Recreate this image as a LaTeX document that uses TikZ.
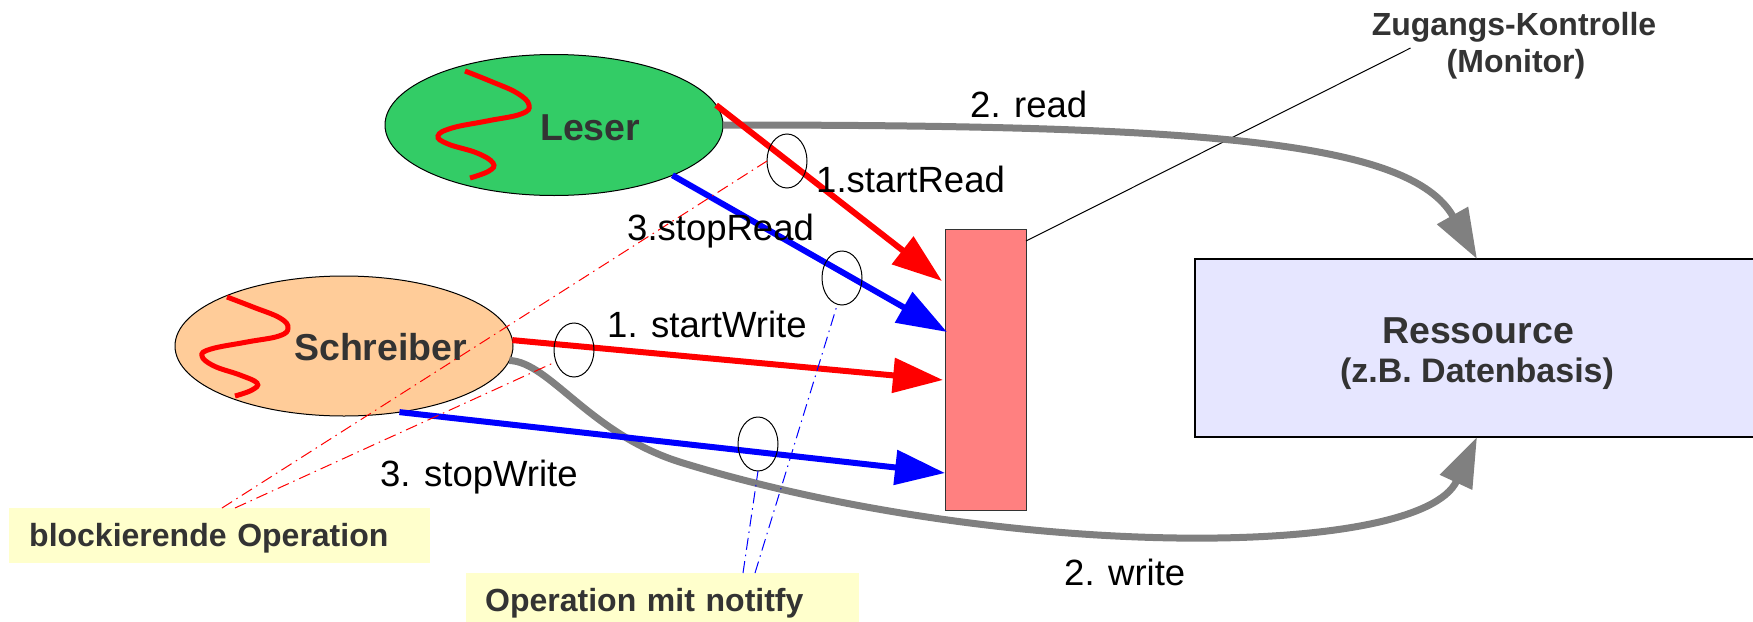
\documentclass[tikz,border=0pt]{standalone}
\usepackage{fontspec}
\setmainfont{Liberation Sans}
\usetikzlibrary{shapes.geometric,arrows.meta}
\definecolor{leserg}{HTML}{33CC66}
\definecolor{schrorange}{HTML}{FFCC99}
\definecolor{monred}{HTML}{FF8080}
\definecolor{reslav}{HTML}{E6E6FF}
\definecolor{noteyel}{HTML}{FFFFCC}
\definecolor{txtgray}{HTML}{333333}
\definecolor{arrgray}{HTML}{808080}
\begin{document}
\begin{tikzpicture}[x=1pt,y=-1pt,
  actor/.style={ellipse,draw=black,line width=1pt,minimum width=338pt,minimum height=141pt,inner sep=0pt,outer sep=0pt},
  opmark/.style={ellipse,draw=black,line width=1pt,minimum width=40pt,minimum height=54pt,inner sep=0pt,outer sep=0pt},
  boldlbl/.style={font=\fontsize{37.5pt}{44pt}\selectfont\bfseries,text=txtgray,inner sep=0pt},
  smallbold/.style={font=\fontsize{32pt}{38pt}\selectfont\bfseries,text=txtgray,inner sep=0pt},
  steplbl/.style={font=\fontsize{36.5pt}{43pt}\selectfont,text=black,inner sep=0pt,anchor=base west},
  callarrow/.style={line width=6pt,-{Triangle[length=50pt,width=34pt]}},
  dataarrow/.style={draw=arrgray,line width=7pt,-{Triangle[length=50pt,width=34pt]}},
  thread/.style={draw=red,line width=5pt},
  hint/.style={line width=1pt,dash pattern=on 12pt off 5pt on 1.5pt off 5pt},
  notebox/.style={fill=noteyel,anchor=north west,inner xsep=20pt,minimum height=55pt,text height=26pt,text depth=4pt,align=left,font=\fontsize{32pt}{38pt}\selectfont\bfseries,text=txtgray}
]
\useasboundingbox (0,0) rectangle (1753,621);

% note boxes
\node[notebox,text width=381pt] (blk) at (9,508) {blockierende Operation};
\node[notebox,text width=355pt,inner xsep=19pt] (ntf) at (466,573) {Operation mit notitfy};

% actors
\node[actor,fill=leserg] (leser) at (554,125) {};
\node[actor,fill=schrorange,minimum height=140pt] (schr) at (344,346) {};
\draw[thread] plot[smooth,tension=0.7] coordinates {(465,71) (490,81) (517,93) (529,105) (521,114) (487,121) (452,128) (438,136) (448,144) (477,153) (493,163) (489,171) (470,178)};
\draw[thread] plot[smooth,tension=0.7] coordinates {(227,297) (253,307) (280,318) (288,328) (279,336) (247,342) (211,349) (202,356) (214,366) (240,375) (257,383) (252,390) (235,396)};
\node[boldlbl,anchor=base west] (lesertxt) at (540,140) {Leser};
\node[boldlbl,anchor=base west] (schrtxt) at (294,360) {Schreiber};

% monitor and resource
\node[draw=txtgray,line width=1pt,fill=monred,anchor=north west,minimum width=81pt,minimum height=281pt,inner sep=0pt,outer sep=0pt] (mon) at (945,229) {};
\node[draw=black,line width=1.2pt,fill=reslav,anchor=north west,minimum width=560pt,minimum height=178pt,inner sep=0pt,outer sep=0pt] (res) at (1195,259) {};
\node[boldlbl,anchor=base] (restitle) at (1478,343) {Ressource};
\node[boldlbl,font=\fontsize{34pt}{40pt}\selectfont\bfseries,anchor=base] (ressub) at (1477,382) {(z.B. Datenbasis)};

% monitor caption
\node[smallbold,anchor=base] (zug) at (1514,35) {Zugangs-Kontrolle};
\node[smallbold,anchor=base] (zugmon) at (1516,72) {(Monitor)};
\draw[line width=1pt] ([yshift=-12pt]mon.north east) -- ([xshift=39pt,yshift=-13pt]zug.base west);

% data access arrows
\draw[dataarrow] (leser.east) .. controls (1200,125) and (1410,140) .. ([xshift=2pt]res.north);
\draw[dataarrow] (schr.-5) .. controls (550,362) and (590,435) .. (683,463) .. controls (1000,560) and (1420,560) .. ([xshift=2pt]res.south);

% monitor calls
\draw[callarrow,red] (leser.7) -- ([xshift=-3pt,yshift=-52pt]mon.north west);
\draw[callarrow,blue] (leser.-23) -- ([xshift=2pt,yshift=-103pt]mon.north west);
\draw[callarrow,red] (schr.2) -- ([xshift=-2pt,yshift=-151pt]mon.north west);
\draw[callarrow,blue] (schr.-50.6) -- ([yshift=-244pt]mon.north west);

% operation marks
\node[opmark] (e1) at (787,161) {};
\node[opmark] (e2) at (842,278) {};
\node[opmark] (e3) at (574,350) {};
\node[opmark] (e4) at (758,444) {};

% hint lines
\draw[hint,red] ([xshift=213pt]blk.north west) -- (e1.west);
\draw[hint,red] ([xshift=226pt]blk.north west) -- (e3.-147);
\draw[hint,blue] ([xshift=289pt]ntf.north west) -- (e2.-100);
\draw[hint,blue] ([xshift=277pt]ntf.north west) -- (e4.south);

% step labels
\node[steplbl] (l1) at (816,192) {1.startRead};
\node[steplbl] (l2) at (970,117) {2. read};
\node[steplbl] (l3) at (627,240) {3.stopRead};
\node[steplbl] (l4) at (607,337) {1. startWrite};
\node[steplbl] (l5) at (1064,585) {2. write};
\node[steplbl] (l6) at (380,486) {3. stopWrite};
\end{tikzpicture}
\end{document}
